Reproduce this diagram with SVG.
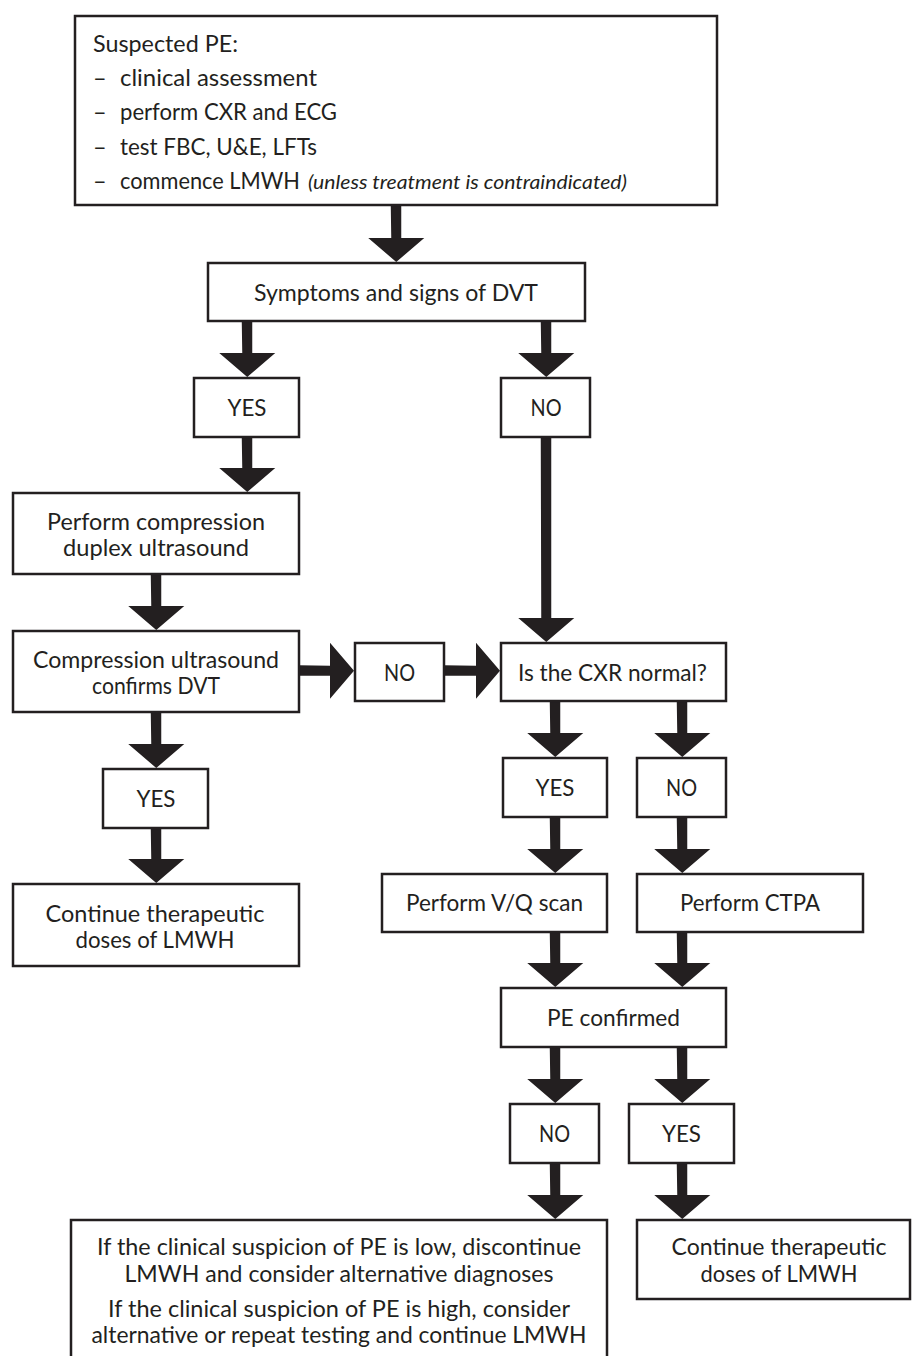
<svg xmlns="http://www.w3.org/2000/svg" width="912" height="1356" viewBox="0 0 912 1356">
<defs>
<style>
.box{fill:#fff;stroke:#231f20;stroke-width:2.5}
.t{font-family:Lato,"Liberation Sans",sans-serif;font-size:23.5px;fill:#231f20}
.c{text-anchor:middle}
.i{font-style:italic;font-size:20px}
.arr{fill:#231f20}
</style>
</defs>
<rect width="912" height="1356" fill="#fff"/>
<g id="connectors" class="arr">
<path d="M390.75 205h10.5v33h23l-28 24l-28-24h23z"/>
<path d="M241.75 321h10.5v32h23l-28 24l-28-24h23z"/>
<path d="M540.75 321h10.5v32h23l-28 24l-28-24h23z"/>
<path d="M241.75 437h10.5v31h23l-28 24l-28-24h23z"/>
<path d="M540.75 437h10.5v181h23l-28 24l-28-24h23z"/>
<path d="M150.75 574h10.5v32h23l-28 24l-28-24h23z"/>
<path d="M150.75 712h10.5v32h23l-28 24l-28-24h23z"/>
<path d="M150.75 828h10.5v31h23l-28 24l-28-24h23z"/>
<path d="M549.75 701h10.5v32h23l-28 24l-28-24h23z"/>
<path d="M676.75 701h10.5v32h23l-28 24l-28-24h23z"/>
<path d="M549.75 817h10.5v32h23l-28 24l-28-24h23z"/>
<path d="M676.75 817h10.5v32h23l-28 24l-28-24h23z"/>
<path d="M549.75 932h10.5v31h23l-28 24l-28-24h23z"/>
<path d="M676.75 932h10.5v31h23l-28 24l-28-24h23z"/>
<path d="M549.75 1047h10.5v32h23l-28 24l-28-24h23z"/>
<path d="M676.75 1047h10.5v32h23l-28 24l-28-24h23z"/>
<path d="M549.75 1163h10.5v32h23l-28 24l-28-24h23z"/>
<path d="M676.75 1163h10.5v32h23l-28 24l-28-24h23z"/>
<path d="M299 665.25v10.5h31v23l24-28l-24-28v23z"/>
<path d="M444 665.25v10.5h32v23l24-28l-24-28v23z"/>
</g>
<g id="n-suspected">
<rect class="box" x="75" y="16" width="642" height="189"/>
<text class="t" x="93" y="52" textLength="145" lengthAdjust="spacingAndGlyphs">Suspected PE:</text>
<text class="t" x="93" y="86">–</text><text class="t" x="120" y="86" textLength="197" lengthAdjust="spacingAndGlyphs">clinical assessment</text>
<text class="t" x="93" y="120">–</text><text class="t" x="120" y="120" textLength="217" lengthAdjust="spacingAndGlyphs">perform CXR and ECG</text>
<text class="t" x="93" y="155">–</text><text class="t" x="120" y="155" textLength="197" lengthAdjust="spacingAndGlyphs">test FBC, U&amp;E, LFTs</text>
<text class="t" x="93" y="189">–</text><text class="t" x="120" y="189" textLength="180" lengthAdjust="spacingAndGlyphs">commence LMWH</text>
<text class="t i" x="308" y="189" textLength="319" lengthAdjust="spacingAndGlyphs">(unless treatment is contraindicated)</text>
</g>
<g id="n-symptoms">
<rect class="box" x="208" y="263" width="377" height="58"/>
<text class="t c" x="396" y="301" textLength="284" lengthAdjust="spacingAndGlyphs">Symptoms and signs of DVT</text>
</g>
<g id="n-yes1">
<rect class="box" x="194" y="378" width="105" height="59"/>
<text class="t c" x="247" y="416" textLength="39" lengthAdjust="spacingAndGlyphs">YES</text>
</g>
<g id="n-no1">
<rect class="box" x="501" y="378" width="89" height="59"/>
<text class="t c" x="546" y="416" textLength="31" lengthAdjust="spacingAndGlyphs">NO</text>
</g>
<g id="n-perform-cdu">
<rect class="box" x="13" y="493" width="286" height="81"/>
<text class="t c" x="156" y="530" textLength="218" lengthAdjust="spacingAndGlyphs">Perform compression</text>
<text class="t c" x="156" y="556" textLength="186" lengthAdjust="spacingAndGlyphs">duplex ultrasound</text>
</g>
<g id="n-cus-confirms">
<rect class="box" x="13" y="631" width="286" height="81"/>
<text class="t c" x="156" y="668" textLength="246" lengthAdjust="spacingAndGlyphs">Compression ultrasound</text>
<text class="t c" x="156" y="694" textLength="128" lengthAdjust="spacingAndGlyphs">confirms DVT</text>
</g>
<g id="n-no2">
<rect class="box" x="355" y="643" width="89" height="58"/>
<text class="t c" x="399.5" y="681" textLength="31" lengthAdjust="spacingAndGlyphs">NO</text>
</g>
<g id="n-cxr">
<rect class="box" x="501" y="643" width="225" height="58"/>
<text class="t c" x="612.5" y="681" textLength="189" lengthAdjust="spacingAndGlyphs">Is the CXR normal?</text>
</g>
<g id="n-yes2">
<rect class="box" x="103" y="769" width="105" height="59"/>
<text class="t c" x="156" y="807" textLength="39" lengthAdjust="spacingAndGlyphs">YES</text>
</g>
<g id="n-continue1">
<rect class="box" x="13" y="884" width="286" height="82"/>
<text class="t c" x="155" y="922" textLength="219" lengthAdjust="spacingAndGlyphs">Continue therapeutic</text>
<text class="t c" x="155" y="948" textLength="159" lengthAdjust="spacingAndGlyphs">doses of LMWH</text>
</g>
<g id="n-yes3">
<rect class="box" x="503" y="758" width="104" height="59"/>
<text class="t c" x="555" y="796" textLength="39" lengthAdjust="spacingAndGlyphs">YES</text>
</g>
<g id="n-no3">
<rect class="box" x="637" y="758" width="89" height="59"/>
<text class="t c" x="681.5" y="796" textLength="31" lengthAdjust="spacingAndGlyphs">NO</text>
</g>
<g id="n-vq">
<rect class="box" x="382" y="874" width="225" height="58"/>
<text class="t c" x="494.5" y="911" textLength="177" lengthAdjust="spacingAndGlyphs">Perform V/Q scan</text>
</g>
<g id="n-ctpa">
<rect class="box" x="637" y="874" width="226" height="58"/>
<text class="t c" x="750" y="911" textLength="140" lengthAdjust="spacingAndGlyphs">Perform CTPA</text>
</g>
<g id="n-pe-confirmed">
<rect class="box" x="501" y="988" width="225" height="59"/>
<text class="t c" x="613.5" y="1026" textLength="133" lengthAdjust="spacingAndGlyphs">PE confirmed</text>
</g>
<g id="n-no4">
<rect class="box" x="510" y="1104" width="89" height="59"/>
<text class="t c" x="554.5" y="1142" textLength="31" lengthAdjust="spacingAndGlyphs">NO</text>
</g>
<g id="n-yes4">
<rect class="box" x="629" y="1104" width="105" height="59"/>
<text class="t c" x="681.5" y="1142" textLength="39" lengthAdjust="spacingAndGlyphs">YES</text>
</g>
<g id="n-suspicion">
<rect class="box" x="71" y="1220" width="536" height="160"/>
<text class="t c" x="339" y="1255" textLength="484" lengthAdjust="spacingAndGlyphs">If the clinical suspicion of PE is low, discontinue</text>
<text class="t c" x="339" y="1282" textLength="429" lengthAdjust="spacingAndGlyphs">LMWH and consider alternative diagnoses</text>
<text class="t c" x="339" y="1317" textLength="462" lengthAdjust="spacingAndGlyphs">If the clinical suspicion of PE is high, consider</text>
<text class="t c" x="339" y="1343" textLength="495" lengthAdjust="spacingAndGlyphs">alternative or repeat testing and continue LMWH</text>
</g>
<g id="n-continue2">
<rect class="box" x="637" y="1220" width="273" height="79"/>
<text class="t c" x="779" y="1255" textLength="215" lengthAdjust="spacingAndGlyphs">Continue therapeutic</text>
<text class="t c" x="779" y="1282" textLength="157" lengthAdjust="spacingAndGlyphs">doses of LMWH</text>
</g>
</svg>
